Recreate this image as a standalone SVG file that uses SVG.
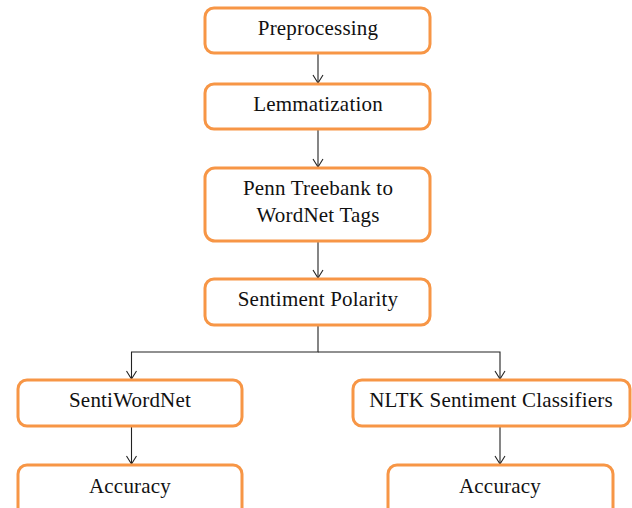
<svg xmlns="http://www.w3.org/2000/svg" width="632" height="508" viewBox="0 0 632 508">
  <defs>
    <marker id="arrow" markerWidth="12" markerHeight="12" refX="10" refY="6" orient="auto" markerUnits="userSpaceOnUse">
      <path d="M2,1 L10,6 L2,11" fill="none" stroke="#222" stroke-width="1.1"/>
    </marker>
    <style>
      .box { fill: #ffffff; stroke: #F79646; stroke-width: 3; }
      .lbl { font-family: 'Liberation Serif', 'Times New Roman', Times, serif; font-size: 21px; fill: #111; text-anchor: middle; letter-spacing: 0.2px; }
      .edge { fill: none; stroke: #222; stroke-width: 1.1; }
    </style>
  </defs>
  <rect width="632" height="508" fill="#ffffff"/>

  <g id="connectors">
    <path class="edge" d="M318,54 L318,83" marker-end="url(#arrow)"/>
    <path class="edge" d="M318,130 L318,167" marker-end="url(#arrow)"/>
    <path class="edge" d="M318,241 L318,278" marker-end="url(#arrow)"/>
    <path class="edge" d="M318,325 L318,352 L131.5,352 L131.5,379" marker-end="url(#arrow)"/>
    <path class="edge" d="M318,352 L500,352 L500,379" marker-end="url(#arrow)"/>
    <path class="edge" d="M131.5,427 L131.5,464" marker-end="url(#arrow)"/>
    <path class="edge" d="M500,427 L500,464" marker-end="url(#arrow)"/>
  </g>

  <g id="preprocessing">
    <rect class="box" x="205" y="8" width="225" height="45" rx="9"/>
    <text class="lbl" x="318" y="35">Preprocessing</text>
  </g>
  <g id="lemmatization">
    <rect class="box" x="205" y="84" width="225" height="45" rx="9"/>
    <text class="lbl" x="318" y="111">Lemmatization</text>
  </g>
  <g id="penn-to-wordnet">
    <rect class="box" x="205" y="168" width="225" height="73" rx="10"/>
    <text class="lbl" x="318" y="195">Penn Treebank to</text>
    <text class="lbl" x="318" y="222">WordNet Tags</text>
  </g>
  <g id="sentiment-polarity">
    <rect class="box" x="205" y="279" width="225" height="46" rx="9"/>
    <text class="lbl" x="318" y="306">Sentiment Polarity</text>
  </g>
  <g id="sentiwordnet">
    <rect class="box" x="18" y="380" width="224" height="46" rx="9"/>
    <text class="lbl" x="130" y="407">SentiWordNet</text>
  </g>
  <g id="nltk-classifiers">
    <rect class="box" x="353" y="380" width="277" height="46" rx="9"/>
    <text class="lbl" x="491" y="407">NLTK Sentiment Classifiers</text>
  </g>
  <g id="accuracy-left">
    <rect class="box" x="18" y="465" width="224" height="60" rx="9"/>
    <text class="lbl" x="130" y="493">Accuracy</text>
  </g>
  <g id="accuracy-right">
    <rect class="box" x="388" y="465" width="225" height="60" rx="9"/>
    <text class="lbl" x="500" y="493">Accuracy</text>
  </g>
</svg>
